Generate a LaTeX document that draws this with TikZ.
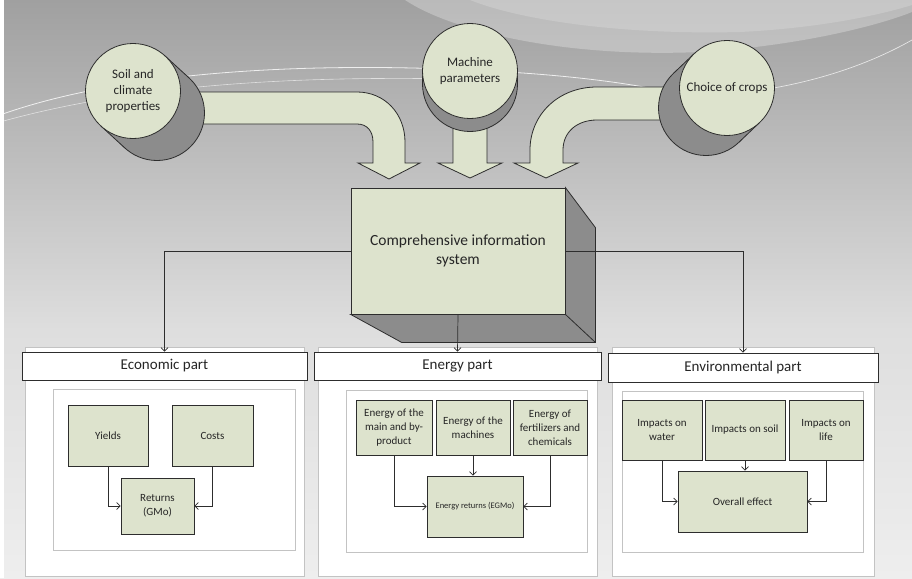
\documentclass[tikz,border=0pt]{standalone}
\usepackage{fontspec}
\setmainfont{Carlito}
\usetikzlibrary{calc,arrows.meta}
\definecolor{sage}{RGB}{221,227,205}
\definecolor{cyl}{RGB}{140,140,140}
\definecolor{edge}{RGB}{45,45,45}
\definecolor{pborder}{RGB}{195,195,195}
\definecolor{bgtop}{RGB}{160,160,160}
\definecolor{bgmid}{RGB}{222,222,222}
\definecolor{bgbot}{RGB}{238,238,238}
\begin{document}
\begin{tikzpicture}[x=1pt,y=-1pt,
  box/.style={draw=edge, fill=sage, line width=0.8pt, inner sep=1pt, align=center, text=black!85, font=\fontsize{11}{14}\selectfont},
  circ/.style={circle, draw=edge, fill=sage, line width=0.8pt, inner sep=0pt, minimum size=95pt, text=black!85, font=\fontsize{13}{16}\selectfont},
  hdr/.style={draw=edge, fill=white, line width=0.8pt, text=black!85, font=\fontsize{15}{18}\selectfont},
  panel/.style={draw=pborder, fill=white, line width=0.8pt},
  conn/.style={draw=edge, line width=0.7pt, -{Straight Barb[length=3.5pt,width=7pt]}},
  blockarrow/.style={fill=sage, draw=edge, line width=0.8pt},
  cylside/.style={fill=cyl, draw=edge, line width=0.8pt}
]
% background
\useasboundingbox (0,0) rectangle (912,578);
\shade[top color=bgtop, bottom color=bgmid] (0,0) rectangle (912,330);
\shade[top color=bgmid, bottom color=bgbot] (0,330) rectangle (912,578);
\fill[white, opacity=0.28] (405,0) .. controls (450,30) and (560,58) .. (700,52) .. controls (800,46) and (880,25) .. (912,12) -- (912,0) -- cycle;
\fill[white, opacity=0.18] (470,0) .. controls (520,20) and (620,35) .. (740,32) .. controls (820,28) and (880,15) .. (912,5) -- (912,0) -- cycle;
\draw[white, opacity=0.8, line width=0.8pt] (0,115) .. controls (120,72) and (300,62) .. (470,70) .. controls (560,74) and (620,82) .. (660,90);
\draw[white, opacity=0.6, line width=0.6pt] (0,122) .. controls (150,80) and (330,75) .. (500,80);
\draw[white, opacity=0.7, line width=0.7pt] (912,40) .. controls (850,75) and (780,90) .. (720,95);
\fill[white] (0,0) rectangle (4,578);

% block arrows
\draw[blockarrow] (190,92) -- (357,92) .. controls (385,92) and (405,114) .. (405,142) -- (405,163) -- (420,163) -- (389,179) -- (358,163) -- (373,163) -- (373,142) .. controls (373,131) and (367,124) .. (357,124) -- (190,124) -- cycle;
\draw[blockarrow] (453,110) -- (487,110) -- (487,163) -- (502,163) -- (470,178) -- (438,163) -- (453,163) -- cycle;
\draw[blockarrow] (690,87) -- (597,87) .. controls (558,87) and (530,115) .. (530,150) -- (530,163) -- (514,163) -- (546,178) -- (578,163) -- (563,163) -- (563,150) .. controls (563,132) and (577,120) .. (597,120) -- (690,120) -- cycle;

% cylinders
\coordinate (soilF) at (133,91);
\coordinate (soilB) at (157,113);
\coordinate (machF) at (470,71);
\coordinate (machB) at (470,84);
\coordinate (cropF) at (727,88);
\coordinate (cropB) at (706,108);
\foreach \F/\B in {soilF/soilB, machF/machB, cropF/cropB}{
  \draw[cylside] (\B) circle (47.5pt);
  \fill[cyl] ($(\F)!47.5pt!90:(\B)$) -- ($(\B)!47.5pt!-90:(\F)$) -- ($(\B)!47.5pt!90:(\F)$) -- ($(\F)!47.5pt!-90:(\B)$) -- cycle;
  \draw[edge, line width=0.8pt] ($(\F)!47.5pt!90:(\B)$) -- ($(\B)!47.5pt!-90:(\F)$);
  \draw[edge, line width=0.8pt] ($(\F)!47.5pt!-90:(\B)$) -- ($(\B)!47.5pt!90:(\F)$);
}
\node[circ] (soil) at (soilF) {\raisebox{2.5pt}{\begin{tabular}{@{}c@{}}Soil and\\climate\\properties\end{tabular}}};
\node[circ] (mach) at (machF) {\raisebox{4pt}{\begin{tabular}{@{}c@{}}Machine\\parameters\end{tabular}}};
\node[circ] (crop) at (cropF) {Choice of crops};

% central 3D box
\node[box, minimum width=214pt, minimum height=126pt, font=\fontsize{15.5}{19}\selectfont] (cis) at (458,251) {Comprehensive information\\system};
\draw[cylside] (cis.north east) -- ($(cis.north east)+(30,40)$) -- ($(cis.south east)+(30,28)$) -- ($(cis.south west)+(51,28)$) -- (cis.south west) -- (cis.south east) -- cycle;
\draw[edge, line width=0.8pt] (cis.south east) -- ($(cis.south east)+(30,28)$);

% panels
\node[panel, minimum width=279pt, minimum height=229pt] (eo) at (164.5,461.5) {};
\node[panel, minimum width=279pt, minimum height=229pt] (no) at (457.5,461.5) {};
\node[panel, minimum width=262pt, minimum height=229pt] (vo) at (743,461.5) {};
\node[hdr, minimum width=285pt, minimum height=28pt] (eh) at (164.5,366) {Economic part};
\node[hdr, minimum width=287pt, minimum height=28pt] (nh) at (457.5,366) {Energy part};
\node[hdr, minimum width=270pt, minimum height=29pt] (vh) at (743,367.5) {Environmental part};
\node[panel, minimum width=242pt, minimum height=161pt] (ei) at (174,469.5) {};
\node[panel, minimum width=241pt, minimum height=162pt] (ni) at (466.5,471) {};
\node[panel, minimum width=241pt, minimum height=161pt] (vi) at (742.5,471.5) {};

% connectors from central box
\draw[conn] (cis.west) -| (eh.north);
\draw[conn] (cis.east) -| (vh.north);
\draw[conn] (cis.south) -- (nh.north);

% economic part
\node[box, minimum width=80pt, minimum height=61pt] (yld) at (108,435.5) {Yields};
\node[box, minimum width=81pt, minimum height=61pt] (cst) at (212.5,435.5) {Costs};
\node[box, minimum width=73pt, minimum height=56pt] (ret) at (157.5,506) {Returns\\(GMo)};
\draw[conn] (yld.south) |- (ret.west);
\draw[conn] (cst.south) |- (ret.east);

% energy part
\node[box, minimum width=76pt, minimum height=55pt] (em) at (394,427.5) {Energy of the\\main and by-\\product};
\node[box, minimum width=74pt, minimum height=55pt] (emc) at (473,427.5) {Energy of the\\machines};
\node[box, minimum width=74pt, minimum height=55pt] (ef) at (550,427.5) {Energy of\\fertilizers and\\chemicals};
\node[box, minimum width=96pt, minimum height=61pt, font=\fontsize{8.5}{10}\selectfont] (er) at (475,506.5) {Energy returns (EGMo)};
\draw[conn] (em.south) |- (er.west);
\draw[conn] (emc.south) -- (emc.south |- er.north);
\draw[conn] (ef.south) |- (er.east);

% environmental part
\node[box, minimum width=80pt, minimum height=60pt] (iw) at (662,430) {Impacts on\\water};
\node[box, minimum width=80pt, minimum height=60pt] (is) at (745,430) {Impacts on soil};
\node[box, minimum width=74pt, minimum height=60pt] (il) at (826,430) {Impacts on\\life};
\node[box, minimum width=129pt, minimum height=61pt] (ov) at (742.5,501.5) {Overall effect};
\draw[conn] (iw.south) |- (ov.west);
\draw[conn] (is.south) -- (is.south |- ov.north);
\draw[conn] (il.south) |- (ov.east);
\end{tikzpicture}
\end{document}
